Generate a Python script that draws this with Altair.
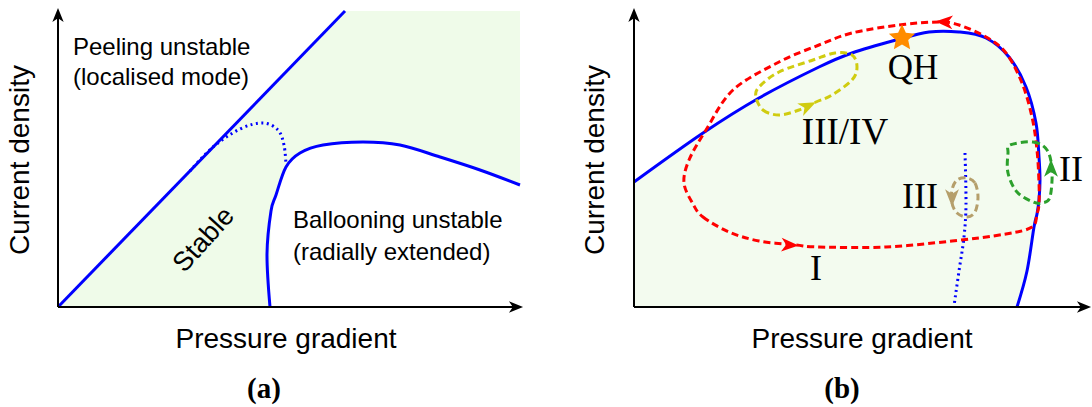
import altair as alt
import pandas as pd

W, H = 546, 407
ylim = [-100, 307]

# ---------------- panel (a) ----------------
a_xlim = [-58, 488]
a_diag_x = [0, 287]
a_diag_y = [0, 296]
a_ball_x = [212, 209, 213, 218, 228, 242, 265, 305, 342, 382, 422, 462]
a_ball_y = [0, 53, 96, 112, 140, 154, 162, 165, 162, 150, 137, 122]
a_dot_x = [132, 155, 182, 205, 220, 226, 228]
a_dot_y = [136, 160, 178, 184, 177, 162, 142]
a_fill_x = [0, 287, 462]
a_fill_y = [0, 296, 296]
a_cut_x = [212, 213, 218, 228, 242, 265, 305, 342, 382, 422, 462]
a_cut_y = [0, 96, 112, 140, 154, 162, 165, 162, 150, 137, 122]
a_axis_tip_x = 465
a_axis_tip_y = 299

# ---------------- panel (b) ----------------
b_xlim = [-88, 458]
b_curve_x = [0, 69, 125, 185, 218, 262, 295, 325, 352, 375, 392, 402, 405, 406, 405, 403, 400, 393, 383]
b_curve_y = [125, 174, 209, 240, 254, 267, 275, 275, 269, 250, 220, 184, 150, 127, 107, 93, 80, 36, 0]
b_fill_n = 14  # points of the upper branch used for the shaded region
b_cut_x = [383, 393, 400, 403, 405, 406]
b_cut_y = [0, 36, 80, 93, 107, 127]
b_dot_x = [331, 332, 330, 325, 320]
b_dot_y = [154, 103, 70, 36, 1]
red_x = [59, 69, 95, 125, 162, 185, 252, 318, 372, 398, 403, 405, 405, 403, 398, 388, 372, 352, 325, 305, 265, 218, 185, 145, 99, 72, 55, 50]
red_y = [103, 90, 75, 66, 62, 60, 60, 66, 73, 80, 93, 103, 124, 157, 190, 224, 254, 270, 282, 285, 282, 274, 262, 245, 217, 177, 147, 124]
yel_x = [122, 129, 145, 165, 182, 198, 218, 223, 218, 201, 179, 145, 125]
yel_y = [210, 197, 192, 197, 205, 212, 227, 240, 252, 254, 247, 235, 220]
grn_x = [376, 399, 413, 418, 416, 408, 399, 383, 374, 374]
grn_y = [162, 165, 157, 137, 110, 104, 105, 115, 134, 154]
tan_x = [333, 341, 344, 341, 333, 323, 318, 318, 323]
tan_y = [129, 124, 110, 95, 90, 94, 104, 117, 127]
star_x, star_y = [268], [269]
b_axis_tip_x = 457
b_axis_tip_y = 299

# loop arrowheads: x, y, angle (deg, clockwise), colour
arr_x = [156, 310, 174, 417, 318]
arr_y = [62, 285, 201, 139, 109]
arr_ang = [3, 183, 335, 270, 90]
arr_col = ["#ff0000", "#ff0000", "#d0cc10", "#2ca02c", "#b59f6b"]

BLUE = "#0000ff"
ARROW = "M1,0 L-1,-0.8 L-0.45,0 L-1,0.8 Z"
STAR = ("M0,-1 L0.28,-0.38 L0.95,-0.31 L0.45,0.15 L0.59,0.81 L0,0.48 "
        "L-0.59,0.81 L-0.45,0.15 L-0.95,-0.31 L-0.28,-0.38 Z")


def df(x, y):
    return pd.DataFrame({"x": x, "y": y, "i": list(range(len(x)))})


def enc(xlim):
    X = alt.X("x:Q", scale=alt.Scale(domain=xlim, nice=False, zero=False), axis=None)
    Y = alt.Y("y:Q", scale=alt.Scale(domain=ylim, nice=False, zero=False), axis=None)
    return X, Y


def axes(xlim, tipx, tipy):
    X, Y = enc(xlim)
    rules = pd.DataFrame({"x": [0, 0], "x2": [tipx - 10, 0], "y": [0, 0], "y2": [0, tipy - 10]})
    r = alt.Chart(rules).mark_rule(color="black", strokeWidth=2).encode(
        x=X, x2="x2:Q", y=Y, y2="y2:Q")
    heads = pd.DataFrame({"x": [tipx - 7, 0], "y": [0, tipy - 7], "a": [0, 270]})
    h = alt.Chart(heads).mark_point(shape=ARROW, filled=True, color="black", opacity=1,
                                    size=200, strokeWidth=0).encode(
        x=X, y=Y, angle=alt.Angle("a:Q", scale=None))
    return [r, h]


def texts(xlim, rows, font, align="center", weight="normal"):
    X, Y = enc(xlim)
    d = pd.DataFrame(rows, columns=["x", "y", "t", "s", "a"])
    return alt.Chart(d).mark_text(font=font, align=align, baseline="middle",
                                  fontWeight=weight, color="black").encode(
        x=X, y=Y, text="t:N", size=alt.Size("s:Q", scale=None),
        angle=alt.Angle("a:Q", scale=None))


# ---------- build panel (a) ----------
X, Y = enc(a_xlim)
a_layers = [
    alt.Chart(df(a_fill_x, a_fill_y)).mark_area(color="#effbe9", interpolate="linear").encode(
        x=X, y=Y, y2=alt.datum(0)),
    alt.Chart(df(a_cut_x, a_cut_y)).mark_area(color="white", interpolate="monotone").encode(
        x=X, y=Y, y2=alt.datum(0)),
    alt.Chart(df(a_diag_x, a_diag_y)).mark_line(color=BLUE, strokeWidth=3).encode(
        x=X, y=Y, order="i:Q"),
    alt.Chart(df(a_ball_x, a_ball_y)).mark_line(color=BLUE, strokeWidth=3, interpolate="cardinal").encode(
        x=X, y=Y, order="i:Q"),
    alt.Chart(df(a_dot_x, a_dot_y)).mark_line(color=BLUE, strokeWidth=3, strokeDash=[2, 3.5],
                                              interpolate="cardinal").encode(x=X, y=Y, order="i:Q"),
]
a_layers += axes(a_xlim, a_axis_tip_x, a_axis_tip_y)
a_layers += [
    texts(a_xlim, [[15, 259, "Peeling unstable", 24, 0],
                   [15, 229, "(localised mode)", 24, 0],
                   [235, 86, "Ballooning unstable", 24, 0],
                   [235, 54, "(radially extended)", 24, 0]], "Liberation Sans", align="left"),
    texts(a_xlim, [[146, 67, "Stable", 27, 312],
                   [228, -33, "Pressure gradient", 28, 0],
                   [-37, 147, "Current density", 28, 270]], "Liberation Sans"),
    texts(a_xlim, [[206, -82, "(a)", 29, 0]], "Liberation Serif", weight="bold"),
]
panel_a = alt.layer(*a_layers).properties(width=W, height=H)

# ---------- build panel (b) ----------
X, Y = enc(b_xlim)
b_layers = [
    alt.Chart(df(b_curve_x[:b_fill_n], b_curve_y[:b_fill_n])).mark_area(
        color="#f3fbef", interpolate="monotone").encode(x=X, y=Y, y2=alt.datum(0)),
    alt.Chart(df(b_cut_x, b_cut_y)).mark_area(color="white", interpolate="monotone").encode(
        x=X, y=Y, y2=alt.datum(0)),
    alt.Chart(df(b_dot_x, b_dot_y)).mark_line(color=BLUE, strokeWidth=3, strokeDash=[2, 3.5],
                                              interpolate="cardinal").encode(x=X, y=Y, order="i:Q"),
    alt.Chart(df(b_curve_x, b_curve_y)).mark_line(color=BLUE, strokeWidth=3, interpolate="cardinal").encode(
        x=X, y=Y, order="i:Q"),
    alt.Chart(df(red_x, red_y)).mark_line(color="#ff0000", strokeWidth=3, strokeDash=[7, 4],
                                          interpolate="cardinal-closed").encode(x=X, y=Y, order="i:Q"),
    alt.Chart(df(yel_x, yel_y)).mark_line(color="#d0cc10", strokeWidth=3, strokeDash=[7, 4],
                                          interpolate="cardinal-closed").encode(x=X, y=Y, order="i:Q"),
    alt.Chart(df(grn_x, grn_y)).mark_line(color="#2ca02c", strokeWidth=3, strokeDash=[7, 4],
                                          interpolate="cardinal-closed").encode(x=X, y=Y, order="i:Q"),
    alt.Chart(df(tan_x, tan_y)).mark_line(color="#b59f6b", strokeWidth=3, strokeDash=[7, 4],
                                          interpolate="cardinal-closed").encode(x=X, y=Y, order="i:Q"),
    alt.Chart(pd.DataFrame({"x": arr_x, "y": arr_y, "a": arr_ang, "c": arr_col})).mark_point(
        shape=ARROW, filled=True, opacity=1, size=300, strokeWidth=0).encode(
        x=X, y=Y, angle=alt.Angle("a:Q", scale=None), color=alt.Color("c:N", scale=None)),
    alt.Chart(df(star_x, star_y)).mark_point(shape=STAR, filled=True, opacity=1, color="#ff8c00",
                                             size=760, strokeWidth=0).encode(x=X, y=Y),
]
b_layers += axes(b_xlim, b_axis_tip_x, b_axis_tip_y)
b_layers += [
    texts(b_xlim, [[228, -33, "Pressure gradient", 28, 0],
                   [-38, 147, "Current density", 28, 270]], "Liberation Sans"),
    texts(b_xlim, [[279, 239, "QH", 35, 0],
                   [211, 174, "III/IV", 37, 0],
                   [286, 110, "III", 36, 0],
                   [437, 137, "II", 36, 0],
                   [182, 38, "I", 36, 0]], "Liberation Serif"),
    texts(b_xlim, [[208, -82, "(b)", 29, 0]], "Liberation Serif", weight="bold"),
]
panel_b = alt.layer(*b_layers).properties(width=W, height=H)

chart = alt.hconcat(panel_a, panel_b, spacing=0).properties(
    padding=0, background="white").configure_view(stroke=None)

chart.save("out.html", embed_options={"renderer": "svg", "actions": False})
